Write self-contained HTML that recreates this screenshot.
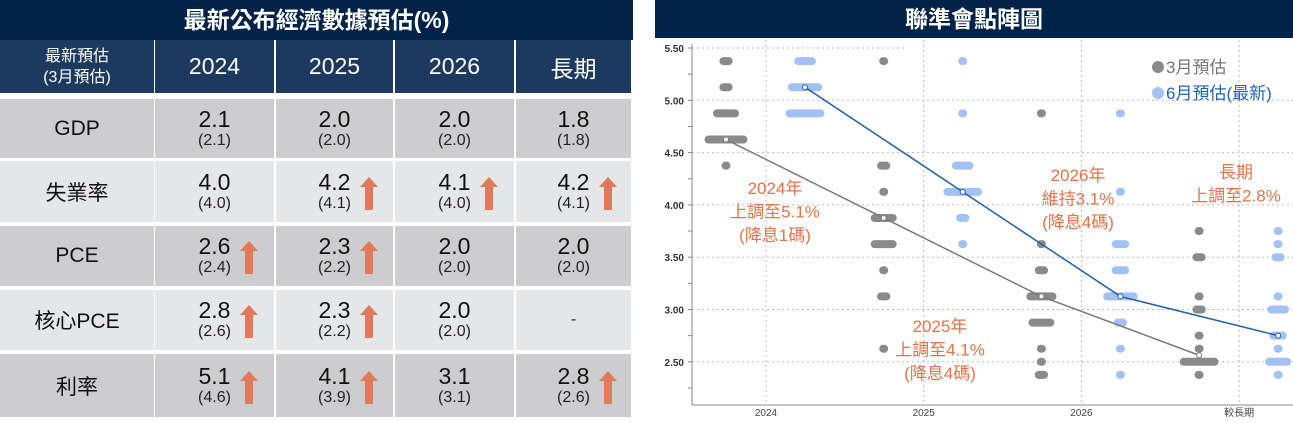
<!DOCTYPE html>
<html><head><meta charset="utf-8">
<style>
body{margin:0;width:1293px;height:423px;background:#fff;font-family:"Liberation Sans","Noto Sans CJK TC",sans-serif;position:relative;overflow:hidden}
.abs{position:absolute}
.title{background:#012249;color:#fff;font-size:23px;text-align:center;line-height:40px;font-weight:bold}
.hd{background:#1c3a5f;color:#fff;text-align:center;display:flex;align-items:center;justify-content:center}
.cell{display:flex;flex-direction:column;align-items:center;justify-content:center;color:#111}
.v{font-size:23px;line-height:24px}
.s{font-size:16px;line-height:20px;color:#222}
.lab{font-size:21px;color:#111;display:flex;align-items:center;justify-content:center}
.arrow{position:absolute;width:18px;height:33px}
.arrow:before{content:"";position:absolute;left:0;top:0;border-left:9px solid transparent;border-right:9px solid transparent;border-bottom:10px solid #e07a5a}
.arrow:after{content:"";position:absolute;left:5px;top:10px;width:8px;height:23px;background:#e07a5a}
</style></head><body>
<div class="abs title" style="left:0;top:0;width:633px;height:40px">最新公布經濟數據預估(%)</div>
<div id="table"></div>
<div class="abs title" style="left:655px;top:0;width:638px;height:38px;line-height:38px">聯準會點陣圖</div>
<svg id="chart" class="abs" style="left:0;top:0" width="1293" height="423"></svg>
<script>
// ---- Table data ----
const colHeads=["2024","2025","2026","長期"];
const rowLabels=["GDP","失業率","PCE","核心PCE","利率"];
const latestVals=[["2.1","2.0","2.0","1.8"],["4.0","4.2","4.1","4.2"],["2.6","2.3","2.0","2.0"],["2.8","2.3","2.0",""],["5.1","4.1","3.1","2.8"]];
const marchVals=[["(2.1)","(2.0)","(2.0)","(1.8)"],["(4.0)","(4.1)","(4.0)","(4.1)"],["(2.4)","(2.2)","(2.0)","(2.0)"],["(2.6)","(2.2)","(2.0)",""],["(4.6)","(3.9)","(3.1)","(2.6)"]];
const upFlags=[[0,0,0,0],[0,1,1,1],[1,1,0,0],[1,1,0,0],[1,1,0,1]];

const T=document.getElementById('table');
const colX=[0,155,276,395,516,633];
const rowY=[[99,158],[161,222],[226,286],[290,350],[354,417]];
function div(cls,st,html){const d=document.createElement('div');d.className='abs '+cls;d.setAttribute('style',st);d.innerHTML=html;T.appendChild(d);return d;}
let h=div('hd',`left:0;top:40px;width:154px;height:53px;font-size:16px;line-height:21px;flex-direction:column`,'最新預估<br>(3月預估)');


colHeads.forEach((c,i)=>{const e=div('hd',`left:${colX[i+1]}px;top:40px;width:${colX[i+2]-colX[i+1]-2}px;height:53px;font-size:23px`,c);

});
rowLabels.forEach((r,ri)=>{
  const bg=ri%2==0?'#cdcdcf':'#e5e6e8';
  const [y0,y1]=rowY[ri];
  const l=div('lab',`left:0;top:${y0}px;width:154px;height:${y1-y0}px;background:${bg}`,r);
  
  
  for(let c=0;c<4;c++){
    const x0=colX[c+1],w=colX[c+2]-colX[c+1]-2;
    const v=latestVals[ri][c];
    const inner=v?`<div class="v">${v}</div><div class="s">${marchVals[ri][c]}</div>`:`<div class="s">-</div>`;
    const cell=div('cell',`left:${x0}px;top:${y0}px;width:${w}px;height:${y1-y0}px;background:${bg}`,inner);
    
    
    if(upFlags[ri][c]){
      const a=document.createElement('div');a.className='arrow';
      a.style.left=(x0+w/2+25)+'px';a.style.top=(y0+(y1-y0)/2-15)+'px';
      
      
      T.appendChild(a);
    }
  }
});

// ---- Chart data ----
const yTicks=[5.5,5.0,4.5,4.0,3.5,3.0,2.5];
const periods=["2024","2025","2026","較長期"];
// dots: [periodIndex, rate, count]
const marchDots=[[0,5.375,2],[0,5.125,2],[0,4.875,5],[0,4.625,9],[0,4.375,1],
 [1,5.375,1],[1,4.375,2],[1,4.125,1],[1,3.875,5],[1,3.625,5],[1,3.375,1],[1,3.125,2],[1,2.625,1],
 [2,4.875,1],[2,3.625,1],[2,3.375,2],[2,3.125,6],[2,2.875,5],[2,2.625,1],[2,2.5,1],[2,2.375,2],
 [3,3.75,1],[3,3.5,2],[3,3.125,1],[3,3.0,2],[3,2.75,1],[3,2.625,1],[3,2.5,8],[3,2.375,1]];
const juneDots=[[0,5.375,4],[0,5.125,7],[0,4.875,8],
 [1,5.375,1],[1,4.875,1],[1,4.375,4],[1,4.125,8],[1,3.875,2],[1,3.625,1],
 [2,4.875,1],[2,4.125,1],[2,3.625,3],[2,3.375,3],[2,3.125,7],[2,2.875,2],[2,2.625,1],[2,2.375,1],
 [3,3.75,1],[3,3.625,1],[3,3.5,2],[3,3.125,1],[3,3.0,4],[3,2.75,3],[3,2.625,1],[3,2.5,5],[3,2.375,1]];
const marchMedian=[4.625,3.875,3.125,2.5625];
const juneMedian=[5.125,4.125,3.125,2.75];

const S=document.getElementById('chart');const NS='http://www.w3.org/2000/svg';
function el(t,a,p){const e=document.createElementNS(NS,t);for(const k in a)e.setAttribute(k,a[k]);(p||S).appendChild(e);return e;}
const yS=v=>100.3+(5-v)*104.6;
const xS=i=>766+i*157.7;
const axL=692,axB=405,axR=1293;
yTicks.forEach(v=>{
  const g=el('line',{x1:axL,x2:v==5.5?905:axR,y1:yS(v),y2:yS(v),stroke:'#bbb','stroke-dasharray':'2,3','stroke-width':1});
  
  
  const t=el('text',{x:axL-8,y:yS(v)+4,'text-anchor':'end','font-size':10,'font-weight':'bold',fill:'#333','font-family':'Liberation Sans, sans-serif'});
  t.textContent=v.toFixed(2);
  
  
});
for(let v=2.25;v<=5.5;v+=0.25){el('line',{x1:axL-4,x2:axL,y1:yS(v),y2:yS(v),stroke:'#888'});}
periods.forEach((p,i)=>{
  const g=el('line',{x1:xS(i),x2:xS(i),y1:40,y2:axB,stroke:'#bbb','stroke-dasharray':'2,3'});
  
  
  const t=el('text',{x:xS(i),y:416,'text-anchor':'middle','font-size':10,fill:'#444','font-family':'Liberation Sans, Noto Sans CJK TC, sans-serif'});
  t.textContent=p;
  
  
});
el('line',{x1:axL,x2:axL,y1:44,y2:axB,stroke:'#888'});
el('line',{x1:axL,x2:axR,y1:axB,y2:axB,stroke:'#888'});
function drawDots(arr,off,color,name){
  arr.forEach(([pi,r,n])=>{
    const cx=xS(pi)+off,w=9+(n-1)*4.25;
    const d=el('rect',{x:cx-w/2,y:yS(r)-4,width:w,height:8,rx:4,fill:color});
    
    
  });
}
drawDots(marchDots,-40,'#8a8a8a','march-dot-row');
drawDots(juneDots,39,'#a3c2f3','june-dot-row');
function medLine(arr,off,color,name){
  const pts=arr.map((v,i)=>[xS(i)+off,yS(v)]);
  const l=el('polyline',{points:pts.map(p=>p.join(',')).join(' '),fill:'none',stroke:color,'stroke-width':1.5});
  
  
  pts.forEach(p=>{const c=el('circle',{cx:p[0],cy:p[1],r:2.5,fill:'#fff',stroke:color,'stroke-width':1});
  
  });
}
medLine(marchMedian,-40,'#7a7a7a','march-median-line');
medLine(juneMedian,39,'#1f5fb5','june-median-line');
function legend(y,color,txt,tc,name){
  const g=el('g',{});
  
  
  el('circle',{cx:1158,cy:y-6,r:6,fill:color},g);
  const t=el('text',{x:1166,y:y,'font-size':17,fill:tc,'font-family':'Liberation Sans, Noto Sans CJK TC, sans-serif'},g);t.textContent=txt;
}
legend(73,'#8a8a8a','3月預估','#777','legend-march');
legend(99,'#a3c2f3','6月預估(最新)','#1f63c6','legend-june');
function note(cx,y0,lines,name){
  const t=el('text',{'text-anchor':'middle','font-size':17,fill:'#e8734a','font-family':'Liberation Sans, Noto Sans CJK TC, sans-serif'});
  
  
  lines.forEach((s,i)=>{const sp=el('tspan',{x:cx,y:y0+i*23.5},t);sp.textContent=s;});
}
note(775,194,['2024年','上調至5.1%','(降息1碼)'],'note-2024');
note(940,332,['2025年','上調至4.1%','(降息4碼)'],'note-2025');
note(1078,181,['2026年','維持3.1%','(降息4碼)'],'note-2026');
note(1236,178,['長期','上調至2.8%'],'note-longrun');
</script>
</body></html>
